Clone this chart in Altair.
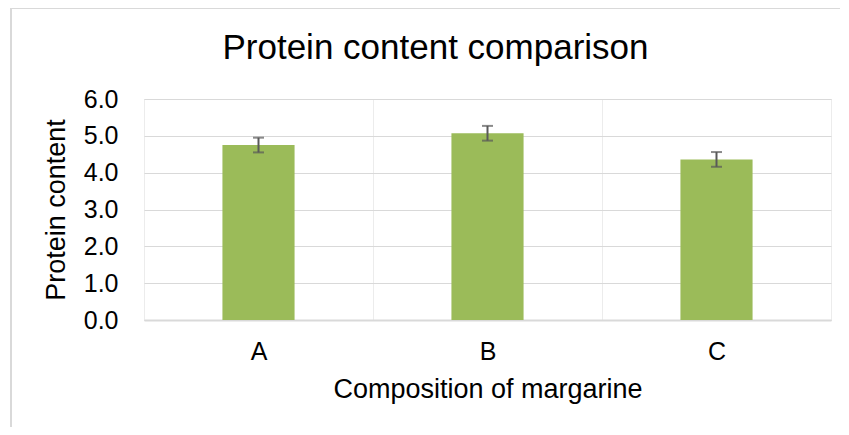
import altair as alt
import pandas as pd

categories = ["A", "B", "C"]
protein = [4.75, 5.07, 4.36]
errors = [0.20, 0.20, 0.20]
y_ticks = [0, 1, 2, 3, 4, 5, 6]

df = pd.DataFrame({"cat": categories, "val": protein, "err": errors})
df["lo"] = df["val"] - df["err"]
df["hi"] = df["val"] + df["err"]

FONT = "Liberation Sans"
BAR = "#9BBB59"
ERR = "#595959"

x_enc = alt.X(
    "cat:N",
    sort=categories,
    scale=alt.Scale(paddingInner=0, paddingOuter=0),
    axis=alt.Axis(
        title="Composition of margarine",
        labelAngle=0,
        grid=True,
        tickBand="extent",
        gridColor="#ececec",
        gridWidth=1,
        domain=True,
        domainColor="#d9d9d9",
        domainWidth=2,
        ticks=False,
        labelFont=FONT,
        titleFont=FONT,
        labelFontSize=25,
        titleFontSize=27,
        titleFontWeight="normal",
        labelColor="black",
        titleColor="black",
        labelPadding=19,
        titlePadding=12,
    ),
)

y_scale = alt.Scale(domain=[0, 6], nice=False, zero=True)
y_axis = alt.Axis(
    title="Protein content",
    values=y_ticks,
    tickCount=7,
    format=".1f",
    grid=True,
    gridColor="#d9d9d9",
    gridWidth=1,
    domain=False,
    ticks=False,
    labelOverlap=False,
    labelFont=FONT,
    titleFont=FONT,
    labelFontSize=25,
    titleFontSize=27,
    titleFontWeight="normal",
    labelColor="black",
    titleColor="black",
    labelPadding=26,
    titlePadding=13,
)

base = alt.Chart(df)

bars = base.mark_bar(color=BAR, width=alt.RelativeBandSize(0.315)).encode(
    x=x_enc,
    y=alt.Y("val:Q", scale=y_scale, axis=y_axis),
)

rules = base.mark_rule(color=ERR, strokeWidth=2).encode(
    x=alt.X("cat:N", sort=categories),
    y="lo:Q",
    y2="hi:Q",
)

caps_lo = base.mark_tick(color=ERR, thickness=2, size=11, orient="horizontal").encode(
    x=alt.X("cat:N", sort=categories),
    y="lo:Q",
)
caps_hi = base.mark_tick(color=ERR, thickness=2, size=11, orient="horizontal").encode(
    x=alt.X("cat:N", sort=categories),
    y="hi:Q",
)

frame_top = alt.Chart(df).mark_rule(color="#d9d9d9", strokeWidth=2).encode(
    x=alt.value(-133), x2=alt.value(720), y=alt.value(-91)
)
frame_left = alt.Chart(df).mark_rule(color="#d9d9d9", strokeWidth=2).encode(
    x=alt.value(-133), y=alt.value(-91), y2=alt.value(400)
)

chart = (
    alt.layer(bars, rules, caps_lo, caps_hi, frame_top, frame_left)
    .properties(
        width=687,
        height=221,
        autosize=alt.AutoSizeParams(type="none"),
        padding={"left": 136, "top": 91, "right": 9, "bottom": 107},
        title=alt.TitleParams(
            "Protein content comparison",
            font=FONT,
            fontSize=35,
            fontWeight="normal",
            color="black",
            anchor="middle",
            dx=-52,
            baseline="alphabetic",
            offset=-87,
        ),
    )
    .configure_view(stroke="#d9d9d9", strokeWidth=1)
    .configure(background="white")
)

chart.save("out.html", embed_options={"renderer": "svg", "actions": False})
